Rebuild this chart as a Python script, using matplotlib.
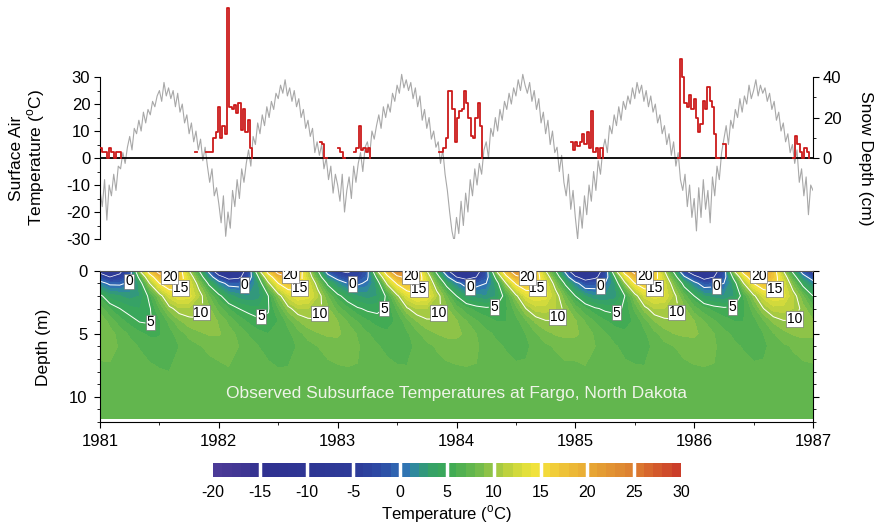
import numpy as np
import matplotlib
matplotlib.use("Agg")
import matplotlib.pyplot as plt
from matplotlib.colors import LinearSegmentedColormap, Normalize
from matplotlib.ticker import MultipleLocator, FixedLocator

plt.rcParams['font.family'] = ['Liberation Sans', 'DejaVu Sans']
plt.rcParams['mathtext.fontset'] = 'custom'
plt.rcParams['mathtext.rm'] = 'Liberation Sans'
plt.rcParams['axes.unicode_minus'] = False
plt.rcParams['contour.negative_linestyle'] = 'solid'

# ---- surface air temperature, weekly values (deg C) ----
air_1981 = [-12, -18, -8, -23, -10, -14, -6, -12, -3, -4, 2, -2, 4, 8, 3, 11, 9,
            14, 10, 17, 13, 18, 16, 21, 19, 23, 25, 21, 28, 23, 26, 22, 25, 19, 24,
            17, 20, 13, 16, 9, 13, 6, 10, 3, 7, -1, 4, -3, -9, -4, -14, -11]
air_1982 = [-17, -24, -14, -29, -20, -26, -12, -18, -8, -15, -4, -9, -2, 3, -3, 8, 5,
            13, 9, 16, 12, 19, 15, 21, 18, 24, 22, 27, 24, 29, 23, 26, 21, 25, 19,
            22, 15, 18, 11, 14, 8, 11, 2, 6, 1, 5, -4, 0, -8, -3, -13, -6]
air_1983 = [-10, -16, -6, -20, -12, -7, -15, -3, -9, -2, 2, -5, 4, 6, 1, 10, 7,
            12, 16, 11, 19, 15, 20, 17, 24, 21, 27, 24, 31, 26, 29, 25, 28, 22, 26,
            19, 23, 14, 18, 11, 15, 7, 10, 4, 6, -2, 3, -6, -12, -20, -27, -31]
air_1984 = [-22, -28, -16, -25, -13, -20, -8, -14, -4, -10, -2, -6, 3, 6, 0, 11, 8,
            15, 10, 18, 14, 21, 18, 24, 20, 26, 23, 29, 25, 31, 27, 24, 28, 21, 25,
            18, 22, 13, 17, 9, 14, 5, 10, 2, 4, -5, 1, -9, -14, -6, -19, -12]
air_1985 = [-22, -30, -18, -26, -14, -21, -10, -16, -5, -12, -1, -6, 3, 7, 2, 12, 9,
            16, 12, 19, 14, 21, 18, 23, 20, 26, 22, 28, 24, 27, 21, 25, 19, 23, 17,
            20, 13, 16, 9, 12, 5, 9, 1, 6, -3, 2, -8, -12, -6, -18, -10, -22]
air_1986 = [-15, -27, -11, -22, -8, -19, -12, -24, -7, -14, -3, -8, 2, 7, 12, 5, 14,
            11, 18, 15, 22, 17, 23, 20, 27, 22, 25, 29, 23, 27, 24, 26, 21, 24, 18,
            21, 14, 17, 10, 13, 6, 9, 2, 5, -2, 3, -9, -4, -14, -7, -21, -10]
air_end = [-12]

# ---- snow depth (cm), weekly values for each winter, nan = no snow ----
snow_start = [1981.0, 1981.80, 1982.85, 1983.85, 1984.96, 1985.86, 1986.83]
snow_w81 = [5, 3, 3, 0, 5, 3, 0, 3, 3, 0]
snow_w82 = [3, np.nan, np.nan, np.nan, np.nan, 3, 3, 3, 10, 13, 25, 10, 16, 12, 74,
            25, 24, 26, 22, 27, 14, 24, 13, 19, 5, 0]
snow_w83 = [8, 7, 0, np.nan, np.nan, np.nan, np.nan, np.nan, 5, 3, 0, np.nan, np.nan,
            np.nan, np.nan, 3, 5, 16, 4, 5, 3, 5, 0]
snow_w84 = [3, 3, 5, 10, 33, 33, 24, 8, 20, 23, 24, 33, 27, 20, 11, 10, 20, 27, 16, 0]
snow_w85 = [8, 4, 8, 6, 8, 12, 7, 13, 5, 23, 3, 5, 0, 5, 0]
snow_w86 = [0, 49, 40, 27, 25, 31, 24, 29, 20, 13, 17, 28, 24, 35, 28, 25, 12, 0,
            np.nan, np.nan, 7, 0]
snow_w87 = [0, 11, 7, 3, 0, 5, 3, 0]

# ---- subsurface temperature (deg C), month-start values 1981-01 .. 1987-01 ----
soil_depth = [0, 0.5, 1, 2, 3, 4, 5, 6, 8, 11.7]
soil_0m = [-7, -9, -6, -2, 10, 17, 22, 23, 17, 10, 5, -1,
           -10, -12, -8, -3, 9, 17, 22, 23, 18, 11, 5, -2,
           -5, -6, -4, -1, 10, 18, 24, 24, 18, 10, 4, -3,
           -13, -11, -7, -2, 10, 18, 23, 24, 17, 10, 5, -1,
           -12, -13, -8, -3, 9, 17, 22, 22, 17, 10, 4, -4,
           -10, -12, -7, -2, 10, 17, 22, 23, 17, 10, 4, -2,
           -6]
soil_05m = [-2, -5, -4, -1, 6, 13, 18, 20, 17, 12, 7, 2,
            -3, -7, -6, -2, 5, 13, 18, 20, 17, 12, 7, 1.5,
            -1.5, -3, -3, -0.5, 6, 14, 19, 21, 18, 12, 6.5, 1,
            -5, -7, -5, -1.5, 6, 14, 19, 20.5, 17, 12, 7, 2,
            -4, -8, -6, -2, 5, 13, 18, 19.5, 16.5, 11.5, 6.5, 0.5,
            -3, -7, -5, -1.5, 6, 13, 18, 20, 17, 12, 6.5, 1.5,
            -2]
soil_1m = [1, -0.5, -0.5, 0.5, 3.5, 10, 15, 17.5, 16.5, 13, 9, 4.5,
           1.5, -1, -1, 0, 3, 9.5, 15, 17.5, 16.5, 13, 9, 4.5,
           2, 0, -0.5, 0.5, 3.5, 10.5, 15.5, 18, 17, 13, 8.5, 4,
           1, -1.5, -1, 0, 3.5, 10, 15.5, 17.5, 16.5, 13, 9, 4.5,
           1, -2, -1.5, 0, 3, 9.5, 15, 17, 16, 12.5, 8.5, 4,
           1, -1.5, -1, 0, 3.5, 10, 15, 17.5, 16.5, 13, 8.5, 4,
           1.5]
soil_2m = [5.5, 3.5, 3, 2.5, 3, 5.5, 9, 12.5, 14, 13.5, 11, 8,
           5.5, 3.5, 2.5, 2, 2.5, 5, 9, 12.5, 14, 13.5, 11, 8,
           5.5, 4, 3, 2.5, 3, 5.5, 9.5, 13, 14.5, 14, 11, 8,
           5, 3, 2.5, 2, 3, 6, 9.5, 13, 14, 13.5, 11, 8,
           5, 3, 2, 2, 2.5, 5, 9, 12.5, 13.5, 13, 10.5, 7.5,
           5, 3, 2.5, 2, 3, 6, 9.5, 12.5, 14, 13.5, 11, 8,
           5]
soil_3m = [7.5, 6, 5, 4.3, 4, 4.8, 7, 9.5, 10.8, 10.8, 10.5, 9.2,
           7.5, 6, 5, 4.5, 4.2, 4.9, 7, 9.5, 11, 11, 10.5, 9.2,
           7.5, 6.2, 5.2, 4.7, 4.6, 5.2, 7.2, 9.8, 11, 11, 10.5, 9.2,
           7.5, 6.3, 5.6, 5.3, 5.3, 5.8, 7.5, 10, 11.5, 11.5, 11, 9.5,
           7.6, 6.2, 5.2, 4.7, 4.6, 5.2, 7.2, 9.5, 11, 11, 10.5, 9.2,
           7.4, 6.3, 5.6, 5.3, 5.3, 5.8, 7.5, 10, 11.5, 11.5, 11, 9.5,
           7.6]
soil_4m = [8.8, 7.6, 6.4, 5.6, 4.9, 4.8, 5.8, 7.3, 8.8, 9.6, 9.8, 9.5,
           8.9, 7.7, 6.6, 5.8, 5.3, 5.2, 6.0, 7.4, 8.9, 9.7, 9.9, 9.6,
           9.0, 7.9, 6.9, 6.1, 5.6, 5.5, 6.2, 7.6, 9.0, 9.8, 9.9, 9.7,
           9.1, 8.0, 7.1, 6.4, 6.0, 6.0, 6.6, 7.8, 9.2, 9.9, 9.95, 9.7,
           9.1, 7.9, 6.9, 6.1, 5.6, 5.5, 6.2, 7.5, 9.0, 9.7, 9.9, 9.6,
           9.0, 8.0, 7.1, 6.4, 6.0, 6.0, 6.6, 7.8, 9.2, 9.9, 9.95, 9.7,
           9.2]
soil_5m = [9.0, 8.4, 7.6, 6.8, 6.2, 5.8, 5.9, 6.6, 7.5, 8.3, 8.8, 9.1,
           9.1, 8.5, 7.7, 6.9, 6.3, 6.0, 6.1, 6.7, 7.6, 8.4, 8.9, 9.2,
           9.2, 8.6, 7.9, 7.1, 6.5, 6.2, 6.2, 6.8, 7.7, 8.5, 9.0, 9.3,
           9.3, 8.7, 8.0, 7.3, 6.8, 6.5, 6.5, 7.0, 7.9, 8.6, 9.1, 9.3,
           9.2, 8.6, 7.8, 7.1, 6.5, 6.2, 6.3, 6.8, 7.7, 8.5, 9.0, 9.2,
           9.2, 8.7, 8.0, 7.3, 6.8, 6.5, 6.5, 7.0, 7.9, 8.6, 9.1, 9.3,
           9.3]
soil_6m = [8.4, 8.3, 7.9, 7.4, 6.9, 6.5, 6.3, 6.5, 7.0, 7.5, 7.9, 8.2,
           8.4, 8.4, 8.0, 7.5, 7.0, 6.6, 6.4, 6.6, 7.1, 7.6, 8.0, 8.3,
           8.5, 8.4, 8.1, 7.6, 7.1, 6.7, 6.5, 6.7, 7.2, 7.7, 8.1, 8.4,
           8.5, 8.4, 8.1, 7.7, 7.2, 6.9, 6.7, 6.8, 7.3, 7.8, 8.1, 8.4,
           8.4, 8.3, 8.0, 7.6, 7.1, 6.7, 6.5, 6.7, 7.2, 7.7, 8.0, 8.3,
           8.5, 8.4, 8.1, 7.7, 7.2, 6.9, 6.7, 6.8, 7.3, 7.8, 8.1, 8.4,
           8.4]
soil_8m = [7.7, 7.8, 7.9, 7.8, 7.6, 7.3, 7.1, 7.0, 7.1, 7.3, 7.5, 7.6,
           7.7, 7.9, 7.9, 7.8, 7.6, 7.3, 7.1, 7.1, 7.2, 7.4, 7.5, 7.7,
           7.8, 7.9, 7.95, 7.8, 7.7, 7.4, 7.2, 7.1, 7.2, 7.4, 7.6, 7.7,
           7.8, 7.9, 7.95, 7.8, 7.7, 7.4, 7.2, 7.2, 7.3, 7.5, 7.6, 7.7,
           7.7, 7.9, 7.9, 7.8, 7.6, 7.3, 7.2, 7.1, 7.2, 7.4, 7.5, 7.7,
           7.8, 7.9, 7.95, 7.8, 7.7, 7.4, 7.2, 7.2, 7.3, 7.5, 7.6, 7.7,
           7.8]
soil_12m = [7.5, 7.5, 7.6, 7.6, 7.6, 7.5, 7.5, 7.4, 7.4, 7.4, 7.4, 7.5,
            7.5, 7.5, 7.6, 7.6, 7.6, 7.5, 7.5, 7.4, 7.4, 7.4, 7.4, 7.5,
            7.5, 7.6, 7.6, 7.6, 7.6, 7.5, 7.5, 7.4, 7.4, 7.4, 7.5, 7.5,
            7.5, 7.6, 7.6, 7.6, 7.6, 7.5, 7.5, 7.4, 7.4, 7.4, 7.5, 7.5,
            7.5, 7.5, 7.6, 7.6, 7.6, 7.5, 7.5, 7.4, 7.4, 7.4, 7.4, 7.5,
            7.5, 7.6, 7.6, 7.6, 7.6, 7.5, 7.5, 7.4, 7.4, 7.4, 7.5, 7.5,
            7.5]

# contour label spots (year, depth)
label_pos = [(1981.24, 0.75), (1982.2, 0.75), (1983.13, 0.75), (1984.11, 0.75), (1985.2, 1.0), (1986.17, 0.75),
             (1981.44, 4.2), (1982.37, 3.9), (1983.44, 3.5), (1984.32, 2.7), (1985.36, 3.5), (1986.32, 2.7),
             (1981.82, 3.2), (1982.85, 3.4), (1983.86, 3.4), (1984.86, 3.7), (1985.85, 3.3), (1986.84, 3.8),
             (1981.7, 1.45), (1982.71, 1.5), (1983.74, 1.7), (1984.7, 1.5), (1985.7, 1.5), (1986.68, 1.5),
             (1981.59, 0.5), (1982.62, 0.5), (1983.63, 0.5), (1984.6, 0.5), (1985.59, 0.5), (1986.54, 0.5)]

# colour scale of the original figure
cmap_vals = [-20, -16, -15, -5, -2, 0, 1, 2, 3, 5, 7, 9, 10, 12, 14, 15, 16, 20, 22, 25, 27, 30]
cmap_cols = ['#4d3a97', '#3c3592', '#2f3190', '#2e3a98', '#2e4ba5', '#2f6db5', '#2f80ae',
             '#2f8f90', '#35a06c', '#3aa955', '#5ab34f', '#7fc04b', '#98c546', '#c8d63c',
             '#ebe33b', '#f4e13c', '#f2d23a', '#e9ab34', '#e39833', '#dc7e31', '#d6622d', '#c9392a']

air_temp = np.array(air_1981 + air_1982 + air_1983 + air_1984 + air_1985 + air_1986 + air_end, float)
air_time = 1981 + np.arange(len(air_temp)) / 52.0

soil_T = np.array([soil_0m, soil_05m, soil_1m, soil_2m, soil_3m, soil_4m,
                   soil_5m, soil_6m, soil_8m, soil_12m], float)
soil_time = 1981 + np.arange(soil_T.shape[1]) / 12.0

cmap = LinearSegmentedColormap.from_list(
    'fargo', [((v + 20) / 50.0, c) for v, c in zip(cmap_vals, cmap_cols)])
norm = Normalize(-20, 30)
levels = np.arange(-20, 31, 1)

W, H = 878, 525
fig = plt.figure(figsize=(W / 100, H / 100), dpi=100)

# ---------------- top panel ----------------
ax1 = fig.add_axes([100 / W, 1 - 239 / H, 713 / W, 234 / H])
ax1.plot(air_time, air_temp, color='#a8a8a8', lw=0.8)
ax1.axhline(0, color='black', lw=1.3, zorder=3)
ax1.set_xlim(1981, 1987)
ax1.set_ylim(-30, 56.7)
for s in ['top', 'bottom', 'right']:
    ax1.spines[s].set_visible(False)
ax1.spines['left'].set_bounds(-30, 30)
ax1.set_xticks([])
ax1.set_yticks(np.arange(-30, 31, 10))
ax1.yaxis.set_minor_locator(FixedLocator([-25, -15, -5, 5, 15, 25]))
ax1.tick_params(axis='y', which='major', labelsize=12, length=4, pad=3)
ax1.tick_params(axis='y', which='minor', length=2.5)

ax2 = ax1.twinx()
for t0, vals in zip(snow_start, [snow_w81, snow_w82, snow_w83, snow_w84, snow_w85, snow_w86, snow_w87]):
    tt = t0 + np.arange(len(vals)) / 52.0
    ax2.plot(tt, vals, color='#cc1a1a', lw=1.3, drawstyle='steps-post')
ax2.set_xlim(1981, 1987)
for s in ['top', 'bottom', 'left']:
    ax2.spines[s].set_visible(False)
ax2.spines['right'].set_bounds(0, 40)
ax2.set_yticks([0, 20, 40])
ax2.yaxis.set_minor_locator(FixedLocator([10, 30]))
ax2.tick_params(axis='y', which='major', labelsize=12, length=4, pad=3)
ax2.tick_params(axis='y', which='minor', length=2.5)
ax2.set_ylim(-40, 75.6)

fig.text(28 / W, 1 - 158 / H, 'Surface Air\nTemperature ($^{\\mathrm{o}}$C)', rotation=90,
         ha='center', va='center', multialignment='center', fontsize=12.5, linespacing=1.05)
fig.text(866 / W, 1 - 158 / H, 'Snow Depth (cm)', rotation=270, ha='center', va='center', fontsize=12.5)

# ---------------- bottom panel ----------------
ax3 = fig.add_axes([100 / W, 1 - 422 / H, 713 / W, 151.3 / H])
cf = ax3.contourf(soil_time, soil_depth, soil_T, levels=levels, cmap=cmap, norm=norm)
ax3.contour(soil_time, soil_depth, soil_T, levels=[-5], colors='white', linewidths=0.5)
cs = ax3.contour(soil_time, soil_depth, soil_T, levels=[0, 5, 10, 15, 20],
                 colors='white', linewidths=0.7)
lbls = ax3.clabel(cs, manual=label_pos, inline=True,
                  fmt='%d', fontsize=10, colors='black', inline_spacing=2)
for t in lbls:
    t.set_rotation(0)
    t.set_bbox(dict(boxstyle='square,pad=0.06', fc='white', ec='#666666', lw=0.4))
ax3.set_xlim(1981, 1987)
ax3.set_ylim(12, 0)
ax3.text(1984.0, 9.7, 'Observed Subsurface Temperatures at Fargo, North Dakota',
         color='#eef4e8', fontsize=12.5, ha='center', va='center')
ax3.set_xticks(np.arange(1981, 1988, 1))
ax3.xaxis.set_minor_locator(MultipleLocator(0.5))
ax3.set_yticks([0, 5, 10])
ax3.yaxis.set_minor_locator(MultipleLocator(1))
ax3.tick_params(which='both', right=True, top=False)
ax3.tick_params(which='major', labelsize=12, length=4, pad=5)
ax3.tick_params(which='minor', length=2.5)
ax3.spines['top'].set_color('#555555')
fig.text(44 / W, 1 - 347 / H, 'Depth (m)', rotation=90, ha='center', va='center', fontsize=12.5)

# ---------------- colour bar ----------------
cax = fig.add_axes([213 / W, 1 - 476.7 / H, 468 / W, 14 / H])
cb = fig.colorbar(cf, cax=cax, orientation='horizontal', ticks=np.arange(-20, 31, 5))
cb.outline.set_visible(False)
cax.tick_params(length=0, pad=6, labelsize=11.5)
for v in range(-15, 30, 5):
    cax.axvline(v, color='white', lw=2.5)
cb.set_label('Temperature ($^{\\mathrm{o}}$C)', fontsize=12, labelpad=2)

fig.savefig('out.png', dpi=100)
